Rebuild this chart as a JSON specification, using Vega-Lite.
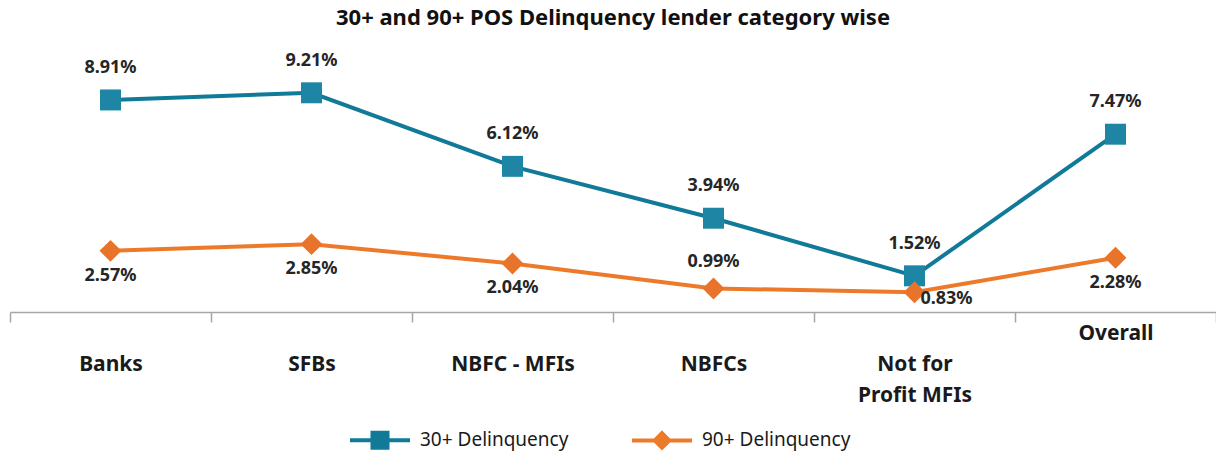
{
  "$schema": "https://vega.github.io/schema/vega-lite/v6.json",
  "width": 1206,
  "height": 238,
  "autosize": {"type": "none"},
  "padding": {"left": 10, "top": 74, "right": 0, "bottom": 143},
  "background": "white",
  "title": {
    "text": "30+ and 90+ POS Delinquency lender category wise",
    "font": "Noto Sans",
    "fontSize": 22,
    "fontWeight": "bold",
    "color": "#111111",
    "anchor": "middle",
    "offset": 22
  },
  "config": {
    "view": {"stroke": null},
    "font": "Noto Sans"
  },
  "data": {
    "values": [
      {"category": "Banks", "series": "30+ Delinquency", "value": 0.0891},
      {"category": "SFBs", "series": "30+ Delinquency", "value": 0.0921},
      {"category": "NBFC - MFIs", "series": "30+ Delinquency", "value": 0.0612},
      {"category": "NBFCs", "series": "30+ Delinquency", "value": 0.0394},
      {"category": "Not for Profit MFIs", "series": "30+ Delinquency", "value": 0.0152},
      {"category": "Overall", "series": "30+ Delinquency", "value": 0.0747},
      {"category": "Banks", "series": "90+ Delinquency", "value": 0.0257},
      {"category": "SFBs", "series": "90+ Delinquency", "value": 0.0285},
      {"category": "NBFC - MFIs", "series": "90+ Delinquency", "value": 0.0204},
      {"category": "NBFCs", "series": "90+ Delinquency", "value": 0.0099},
      {"category": "Not for Profit MFIs", "series": "90+ Delinquency", "value": 0.0083},
      {"category": "Overall", "series": "90+ Delinquency", "value": 0.0228}
    ]
  },
  "encoding": {
    "x": {
      "field": "category",
      "type": "nominal",
      "sort": null,
      "scale": {"paddingInner": 0, "paddingOuter": 0},
      "axis": {
        "title": null,
        "labelAngle": 0,
        "tickBand": "extent",
        "domainColor": "#a6a6a6",
        "domainWidth": 1.5,
        "tickColor": "#a6a6a6",
        "tickWidth": 1.5,
        "tickSize": 10,
        "labelFont": "Noto Sans",
        "labelFontSize": 21,
        "labelFontWeight": "bold",
        "labelColor": "#1a1a1a",
        "labelPadding": 0,
        "labelBaseline": "top",
        "labelLineHeight": 31,
        "labelExpr": "datum.value == 'Overall' ? ['Overall'] : (datum.value == 'Not for Profit MFIs' ? [' ', 'Not for', 'Profit MFIs'] : [' ', datum.value])"
      }
    },
    "y": {
      "field": "value",
      "type": "quantitative",
      "scale": {"domain": [0, 0.1], "nice": false, "zero": true},
      "axis": null
    }
  },
  "layer": [
    {
      "transform": [{"filter": "datum.series == '30+ Delinquency'"}],
      "mark": {"type": "line", "strokeWidth": 4},
      "encoding": {
        "color": {
          "field": "series",
          "type": "nominal",
          "scale": {"domain": ["30+ Delinquency", "90+ Delinquency"], "range": ["#117a98", "#ed7a2b"]},
          "legend": {
            "title": null,
            "orient": "none",
            "direction": "horizontal",
            "legendX": 338,
            "legendY": 334,
            "padding": 0,
            "columnPadding": 55,
            "labelOffset": 8,
            "labelFont": "Noto Sans",
            "labelFontSize": 19,
            "labelColor": "#1a1a1a",
            "symbolSize": 3600,
            "symbolStrokeWidth": 4,
            "encode": {
              "symbols": {
                "update": {
                  "shape": {"signal": "datum.value === '30+ Delinquency' ? 'M-1,0H1M-0.25,-0.25H0.25V0.25H-0.25Z' : 'M-1,0H1M0,-0.24L0.24,0L0,0.24L-0.24,0Z'"},
                  "fill": {"signal": "datum.value === '30+ Delinquency' ? '#117a98' : '#ed7a2b'"},
                  "stroke": {"signal": "datum.value === '30+ Delinquency' ? '#117a98' : '#ed7a2b'"},
                  "strokeWidth": {"value": 4},
                  "opacity": {"value": 1}
                }
              }
            }
          }
        }
      }
    },
    {
      "transform": [{"filter": "datum.series == '30+ Delinquency'"}],
      "mark": {"type": "point", "shape": "square", "filled": true, "size": 440, "color": "#1e86a4", "opacity": 1}
    },
    {
      "transform": [{"filter": "datum.series == '90+ Delinquency'"}],
      "mark": {"type": "line", "strokeWidth": 4},
      "encoding": {
        "color": {"field": "series", "type": "nominal"}
      }
    },
    {
      "transform": [{"filter": "datum.series == '90+ Delinquency'"}],
      "mark": {"type": "point", "shape": "diamond", "filled": true, "size": 480, "color": "#e8742c", "opacity": 1}
    },
    {
      "transform": [{"filter": "datum.series == '30+ Delinquency'"}],
      "mark": {"type": "text", "dy": -32, "font": "Noto Sans", "fontSize": 18, "fontWeight": "bold", "color": "#262626"},
      "encoding": {"text": {"field": "value", "type": "quantitative", "format": ".2%"}}
    },
    {
      "transform": [{"filter": "datum.series == '90+ Delinquency' && datum.category != 'NBFCs' && datum.category != 'Not for Profit MFIs'"}],
      "mark": {"type": "text", "dy": 25, "font": "Noto Sans", "fontSize": 18, "fontWeight": "bold", "color": "#262626"},
      "encoding": {"text": {"field": "value", "type": "quantitative", "format": ".2%"}}
    },
    {
      "transform": [{"filter": "datum.series == '90+ Delinquency' && datum.category == 'NBFCs'"}],
      "mark": {"type": "text", "dy": -26, "font": "Noto Sans", "fontSize": 18, "fontWeight": "bold", "color": "#262626"},
      "encoding": {"text": {"field": "value", "type": "quantitative", "format": ".2%"}}
    },
    {
      "transform": [{"filter": "datum.series == '90+ Delinquency' && datum.category == 'Not for Profit MFIs'"}],
      "mark": {"type": "text", "dx": 32, "dy": 7, "font": "Noto Sans", "fontSize": 18, "fontWeight": "bold", "color": "#262626"},
      "encoding": {"text": {"field": "value", "type": "quantitative", "format": ".2%"}}
    }
  ]
}
